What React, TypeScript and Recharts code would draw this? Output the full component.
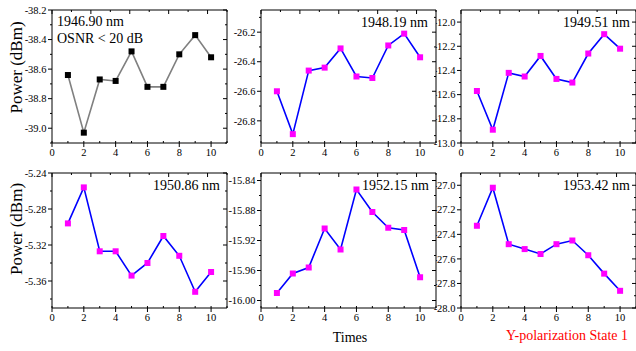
import { LineChart, Line, XAxis, YAxis, CartesianGrid } from 'recharts';

const FONT = '"Liberation Serif", "Times New Roman", serif';

// measurement index on x axis
const times = [1, 2, 3, 4, 5, 6, 7, 8, 9, 10];

// power readings (dBm) per wavelength
const power1946 = [-38.64, -39.03, -38.67, -38.68, -38.48, -38.72, -38.72, -38.5, -38.37, -38.52];
const power1948 = [-26.6, -26.89, -26.46, -26.44, -26.31, -26.5, -26.51, -26.29, -26.21, -26.37];
const power1949 = [-12.57, -12.89, -12.42, -12.45, -12.28, -12.47, -12.5, -12.26, -12.1, -12.22];
const power1950 = [-5.296, -5.256, -5.327, -5.327, -5.354, -5.34, -5.31, -5.332, -5.372, -5.35];
const power1952 = [-15.99, -15.964, -15.956, -15.904, -15.932, -15.852, -15.882, -15.903, -15.906, -15.969];
const power1953 = [-27.33, -27.02, -27.48, -27.52, -27.56, -27.48, -27.45, -27.57, -27.72, -27.86];

const wavelengths = ['1946.90 nm', '1948.19 nm', '1949.51 nm', '1950.86 nm', '1952.15 nm', '1953.42 nm'];

const xTicks = [0, 1, 2, 3, 4, 5, 6, 7, 8, 9, 10, 11];
const xLabels = [0, 2, 4, 6, 8, 10];

const yMajor1946 = [-38.2, -38.4, -38.6, -38.8, -39.0];
const yMinor1946 = [-38.3, -38.5, -38.7, -38.9, -39.1];
const yMajor1948 = [-26.2, -26.4, -26.6, -26.8];
const yMinor1948 = [-26.1, -26.3, -26.5, -26.7, -26.9];
const yMajor1949 = [-12.0, -12.2, -12.4, -12.6, -12.8, -13.0];
const yMinor1949 = [-12.1, -12.3, -12.5, -12.7, -12.9];
const yMajor1950 = [-5.24, -5.28, -5.32, -5.36];
const yMinor1950 = [-5.26, -5.3, -5.34, -5.38];
const yMajor1952 = [-15.84, -15.88, -15.92, -15.96, -16.0];
const yMinor1952 = [-15.86, -15.9, -15.94, -15.98];
const yMajor1953 = [-27.0, -27.2, -27.4, -27.6, -27.8, -28.0];
const yMinor1953 = [-27.1, -27.3, -27.5, -27.7, -27.9];

interface PanelConfig {
  values: number[];
  domain: [number, number];
  major: number[];
  minor: number[];
  digits: number;
  lineColor: string;
  markColor: string;
  col: number;
  row: number;
}

const PANELS: PanelConfig[] = [
  { values: power1946, domain: [-39.1, -38.2], major: yMajor1946, minor: yMinor1946, digits: 1, lineColor: '#808080', markColor: '#000000', col: 0, row: 0 },
  { values: power1948, domain: [-26.95, -26.05], major: yMajor1948, minor: yMinor1948, digits: 1, lineColor: '#0000ff', markColor: '#ff00ff', col: 1, row: 0 },
  { values: power1949, domain: [-13.0, -11.9], major: yMajor1949, minor: yMinor1949, digits: 1, lineColor: '#0000ff', markColor: '#ff00ff', col: 2, row: 0 },
  { values: power1950, domain: [-5.39, -5.24], major: yMajor1950, minor: yMinor1950, digits: 2, lineColor: '#0000ff', markColor: '#ff00ff', col: 0, row: 1 },
  { values: power1952, domain: [-16.01, -15.83], major: yMajor1952, minor: yMinor1952, digits: 2, lineColor: '#0000ff', markColor: '#ff00ff', col: 1, row: 1 },
  { values: power1953, domain: [-28.0, -26.9], major: yMajor1953, minor: yMinor1953, digits: 1, lineColor: '#0000ff', markColor: '#ff00ff', col: 2, row: 1 },
];

const COL_X = [52, 261, 461];
const ROW_Y = [10, 173];
const ROW_H = [133, 135];
const PLOT_W = 175;

const isIn = (list: number[], v: number) => list.some((m) => Math.abs(m - v) < 1e-6);

function BottomTick(props: any) {
  const { x, y, payload } = props;
  const major = isIn(xLabels, payload.value);
  return (
    <g>
      {major ? (
        <line x1={x} y1={y - 2} x2={x} y2={y + 4} stroke="#000" />
      ) : (
        <line x1={x} y1={y} x2={x} y2={y - 2} stroke="#000" />
      )}
      {major && (
        <text x={x} y={y + 13} textAnchor="middle" fontSize={10.5} fontFamily={FONT} style={{ fontFamily: FONT }} fill="#000">
          {payload.value}
        </text>
      )}
    </g>
  );
}

function TopTick(props: any) {
  const { x, y, payload } = props;
  const major = isIn(xLabels, payload.value);
  return <line x1={x} y1={y} x2={x} y2={y + (major ? 4 : 2)} stroke="#000" />;
}

function LeftTick(props: any) {
  const { x, y, payload, major, digits } = props;
  const isMajor = isIn(major, payload.value);
  return (
    <g>
      <line x1={x} y1={y} x2={x - (isMajor ? 4 : 2)} y2={y} stroke="#000" />
      {isMajor && (
        <text x={x - 5.5} y={y} dy="0.35em" textAnchor="end" fontSize={10.5} fontFamily={FONT} style={{ fontFamily: FONT }} fill="#000">
          {payload.value.toFixed(digits)}
        </text>
      )}
    </g>
  );
}

function RightTick(props: any) {
  const { x, y, payload, major } = props;
  const isMajor = isIn(major, payload.value);
  return <line x1={x} y1={y} x2={x - (isMajor ? 4 : 2)} y2={y} stroke="#000" />;
}

function Panel({ config }: { config: PanelConfig }) {
  const data = times.map((t, i) => ({ t, v: config.values[i] }));
  const yTicks = [...config.major, ...config.minor].sort((a, b) => b - a);
  const h = ROW_H[config.row];
  const markColor = config.markColor;
  return (
    <div
      style={{
        position: 'absolute',
        left: COL_X[config.col] - 50,
        top: ROW_Y[config.row] - 10,
        zIndex: 10 - config.col,
      }}
    >
      <LineChart width={50 + PLOT_W + 10} height={10 + h + 30} data={data} margin={{ top: 10, right: 10, bottom: 0, left: 0 }}>
        <CartesianGrid horizontal={false} vertical={false} fill="#ffffff" fillOpacity={1} />
        <XAxis
          dataKey="t"
          type="number"
          domain={[0, 11]}
          ticks={xTicks}
          interval={0}
          height={30}
          tickSize={0}
          tickMargin={0}
          tickLine={false}
          axisLine={{ stroke: '#000' }}
          tick={(p: any) => <BottomTick {...p} />}
          allowDataOverflow
        />
        <XAxis
          xAxisId="top"
          orientation="top"
          mirror
          type="number"
          domain={[0, 11]}
          ticks={xTicks}
          interval={0}
          tickSize={0}
          tickMargin={0}
          tickLine={false}
          axisLine={{ stroke: '#000' }}
          tick={(p: any) => <TopTick {...p} />}
          allowDataOverflow
        />
        <YAxis
          type="number"
          domain={config.domain}
          ticks={yTicks}
          interval={0}
          width={50}
          tickSize={0}
          tickMargin={0}
          tickLine={false}
          axisLine={{ stroke: '#000' }}
          tick={(p: any) => <LeftTick {...p} major={config.major} digits={config.digits} />}
          allowDataOverflow
        />
        <YAxis
          yAxisId="right"
          orientation="right"
          mirror
          type="number"
          domain={config.domain}
          ticks={yTicks}
          interval={0}
          tickSize={0}
          tickMargin={0}
          tickLine={false}
          axisLine={{ stroke: '#000' }}
          tick={(p: any) => <RightTick {...p} major={config.major} />}
          allowDataOverflow
        />
        <Line
          type="linear"
          dataKey="v"
          stroke={config.lineColor}
          strokeWidth={1.6}
          isAnimationActive={false}
          dot={(p: any) => (
            <rect key={`d-${p.index}`} x={p.cx - 3} y={p.cy - 3} width={6} height={6} fill={markColor} />
          )}
          activeDot={false}
        />
      </LineChart>
    </div>
  );
}

export default function App() {
  return (
    <div
      style={{
        position: 'absolute',
        left: 0,
        top: 0,
        width: 636,
        height: 351,
        overflow: 'hidden',
        background: '#fff',
      }}
    >
      {PANELS.map((p, i) => (
        <Panel key={i} config={p} />
      ))}
      <svg width={636} height={351} style={{ position: 'absolute', left: 0, top: 0, zIndex: 20, pointerEvents: 'none' }}>
        <g fontFamily={FONT} fill="#000">
          <text x={57} y={26} fontSize={14}>{wavelengths[0]}</text>
          <text x={57} y={43} fontSize={14}>OSNR &lt; 20 dB</text>
          <text x={428} y={26.5} fontSize={14} textAnchor="end">{wavelengths[1]}</text>
          <text x={630} y={26.5} fontSize={14} textAnchor="end">{wavelengths[2]}</text>
          <text x={220} y={189.5} fontSize={14} textAnchor="end">{wavelengths[3]}</text>
          <text x={429} y={189.5} fontSize={14} textAnchor="end">{wavelengths[4]}</text>
          <text x={630} y={189.5} fontSize={14} textAnchor="end">{wavelengths[5]}</text>
          <text x={16} y={67.5} fontSize={17} textAnchor="middle" dominantBaseline="central" transform="rotate(-90 16 67.5)">
            Power (dBm)
          </text>
          <text x={16} y={229} fontSize={17} textAnchor="middle" dominantBaseline="central" transform="rotate(-90 16 229)">
            Power (dBm)
          </text>
          <text x={350} y={342} fontSize={14} textAnchor="middle">Times</text>
          <text x={506} y={340} fontSize={14} fill="#ff0000">Y-polarization State 1</text>
        </g>
      </svg>
    </div>
  );
}
